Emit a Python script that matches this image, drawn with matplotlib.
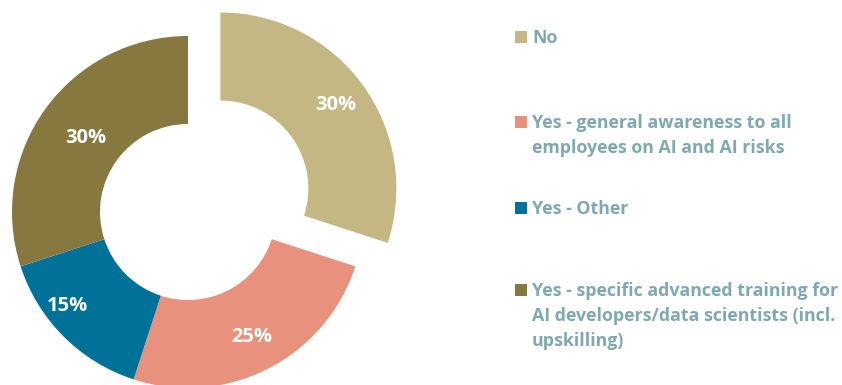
import matplotlib
matplotlib.use("Agg")
import matplotlib.pyplot as plt
from matplotlib.patches import Rectangle
import numpy as np

categories = [
    "No",
    "Yes - general awareness to all\nemployees on AI and AI risks",
    "Yes - Other",
    "Yes - specific advanced training for\nAI developers/data scientists (incl.\nupskilling)",
]
shares = [30, 25, 15, 30]
colors = ["#C4B784", "#E8917C", "#00729A", "#877840"]
explode_px = [40, 0, 0, 0]

W, H = 842, 385
fig = plt.figure(figsize=(W / 100, H / 100), dpi=100)
ax = fig.add_axes([0, 0, 1, 1])

cx, cy = 188, H - 212
R = 176
ring = 88
FONT = ["Open Sans", "DejaVu Sans"]

wedges, _ = ax.pie(
    shares,
    colors=colors,
    startangle=90,
    counterclock=False,
    radius=R,
    center=(cx, cy),
    explode=explode_px,
    wedgeprops=dict(width=ring, edgecolor="none", linewidth=0),
    frame=False,
)
ax.set_xlim(0, W)
ax.set_ylim(0, H)
ax.set_aspect("equal")
ax.axis("off")

# percentage labels inside each ring segment
label_dist = [0.81, 0.80, 0.87, 0.72]
label_ang_shift = [0, 0, -7, 0]
for w, v, d, s in zip(wedges, shares, label_dist, label_ang_shift):
    ang = np.deg2rad((w.theta1 + w.theta2) / 2 + s)
    x0, y0 = w.center
    ax.text(x0 + d * R * np.cos(ang), y0 + d * R * np.sin(ang), f"{v}%",
            ha="center", va="center", color="white", fontsize=14.5,
            fontweight="bold", family=FONT)

# legend on the right
legend_top = [37, 122, 208, 290]
for lab, col, yt in zip(categories, colors, legend_top):
    ax.add_patch(Rectangle((515, H - yt - 6), 12, 12, facecolor=col,
                           edgecolor="none"))
    ax.text(532, H - yt + 8, lab, ha="left", va="top", color="#7FA9AF",
            fontsize=12.8, fontweight="bold", family=FONT,
            linespacing=1.5)

fig.savefig("out.png", dpi=100)
